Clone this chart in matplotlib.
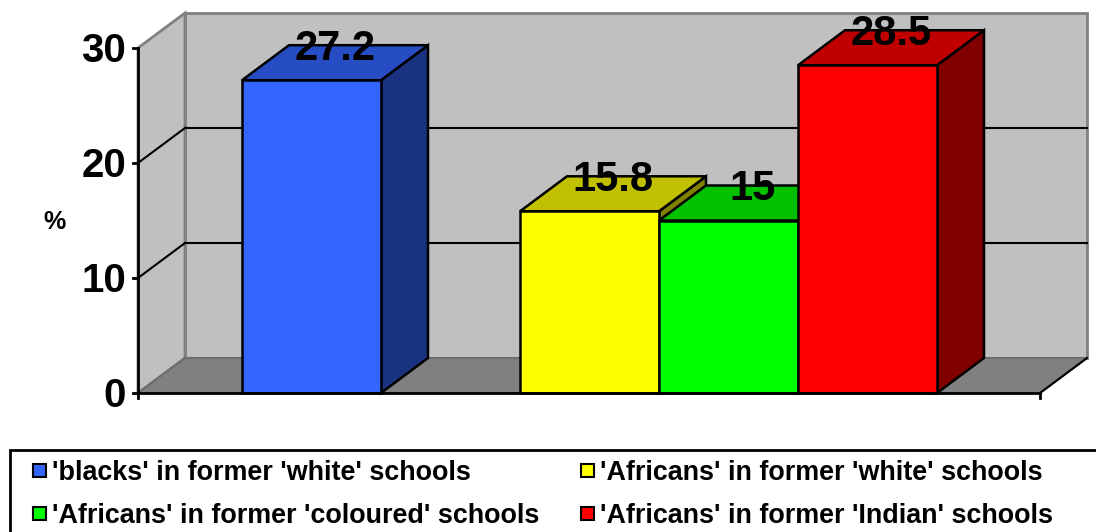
import matplotlib
matplotlib.use('Agg')
import matplotlib.pyplot as plt
from matplotlib.patches import Rectangle

plt.rcParams['font.family'] = ['Liberation Sans', 'DejaVu Sans']

labels = ["'blacks' in former 'white' schools",
          "'Africans' in former 'white' schools",
          "'Africans' in former 'coloured' schools",
          "'Africans' in former 'Indian' schools"]
values = [27.2, 15.8, 15, 28.5]
slots = [0, 2, 3, 4]          # bar slot along the category axis
front_colors = ['#3366FF', '#FFFF00', '#00FF00', '#FF0000']
top_colors = ['#264DC4', '#C0C000', '#00C000', '#C00000']
side_colors = ['#1A3380', '#808000', '#008000', '#800000']
yticks = [0, 10, 20, 30]

# layout (1 x-unit = one bar width, y in percent)
PX, PY = 139.0, 11.5
X0PIX, Y0PIX = 242.0, 393.0
dx, dy = 47 / PX, 35 / PY
x0, x1 = (138 - X0PIX) / PX, (1040 - X0PIX) / PX
ytop = 30


def half_cap(pt):
    # half the cap height of the font, in percent units
    return pt * 100 / 72 * 0.716 / 2 / PY


fig = plt.figure(figsize=(10.96, 5.32), dpi=100)
ax = fig.add_axes([0, 0, 1, 1])
ax.set_xlim(-X0PIX / PX, (1096 - X0PIX) / PX)
ax.set_ylim((Y0PIX - 532) / PY, Y0PIX / PY)
ax.axis('off')

wall = '#C0C0C0'
floor = '#808080'
# back wall and side wall
ax.fill([x0 + dx, x1 + dx, x1 + dx, x0 + dx], [dy, dy, ytop + dy, ytop + dy],
        facecolor=wall, edgecolor='#808080', lw=2, zorder=1)
ax.fill([x0, x0 + dx, x0 + dx, x0], [0, dy, ytop + dy, ytop],
        facecolor=wall, edgecolor='#808080', lw=2, zorder=1)
# gridlines
for t in yticks[1:-1]:
    ax.plot([x0 + dx, x1 + dx], [t + dy, t + dy], color='black', lw=1.5, zorder=2)
    ax.plot([x0, x0 + dx], [t, t + dy], color='black', lw=1.5, zorder=2)
# floor
ax.fill([x0, x1, x1 + dx, x0 + dx], [0, 0, dy, dy],
        facecolor=floor, edgecolor='#6E6E6E', lw=1.5, zorder=2)
ax.plot([x1, x1 + dx], [0, dy], color='black', lw=1.5, zorder=3)

# axes lines and ticks
tick_x = 5 / PX
tick_y = 5 / PY
ax.plot([x0, x0], [0, ytop], color='black', lw=2, zorder=6)
ax.plot([x0, x1], [0, 0], color='black', lw=2, zorder=6)
for t in yticks:
    ax.plot([x0 - tick_x, x0], [t, t], color='black', lw=2, zorder=6)
    ax.text(x0 - 12 / PX, t - half_cap(29), str(t), ha='right', va='baseline',
            fontsize=29, fontweight='bold', zorder=7)
for xe in (x0, x1):
    ax.plot([xe, xe], [0, -tick_y], color='black', lw=2, zorder=6)
ax.text((55 - X0PIX) / PX, (Y0PIX - 222) / PY, '%', ha='center', va='center',
        fontsize=18, fontweight='bold')

# 3D bars
for p, v, fc, tc, sc in zip(slots, values, front_colors, top_colors, side_colors):
    kw = dict(edgecolor='black', lw=1.8, joinstyle='miter', zorder=5)
    ax.fill([p + 1, p + 1, p + 1 + dx, p + 1 + dx], [0, v, v + dy, dy], facecolor=sc, **kw)
    ax.fill([p, p + 1, p + 1 + dx, p + dx], [v, v, v + dy, v + dy], facecolor=tc, **kw)
    ax.fill([p, p + 1, p + 1, p], [0, 0, v, v], facecolor=fc, **kw)

for p, v in zip(slots, values):
    ax.text(p + 0.5 + dx / 2, v + dy - half_cap(30), f'{v:g}', ha='center', va='baseline',
            fontsize=30, fontweight='bold', zorder=8)

# legend (manual, framed box running off the bottom/right edge)
W, H = 1096.0, 532.0
ax.add_patch(Rectangle((10 / W, -0.1), 1.2, 0.1 + (H - 450) / H, transform=ax.transAxes,
                       facecolor='white', edgecolor='black', lw=2, clip_on=False, zorder=9))
col_x = [33, 581]
row_y = [470, 513]
sq = 13
for i, (lab, fc) in enumerate(zip(labels, front_colors)):
    cx, cy = col_x[i % 2], row_y[i // 2]
    ax.add_patch(Rectangle((cx / W, 1 - (cy + sq / 2) / H), sq / W, sq / H,
                           transform=ax.transAxes, facecolor=fc, edgecolor='black',
                           lw=1.5, zorder=10))
    ax.text((cx + sq + 6) / W, 1 - (cy + 9.7) / H, lab, transform=ax.transAxes,
            ha='left', va='baseline', fontsize=19.4, fontweight='bold', zorder=10)

fig.savefig('out.png', dpi=100)
